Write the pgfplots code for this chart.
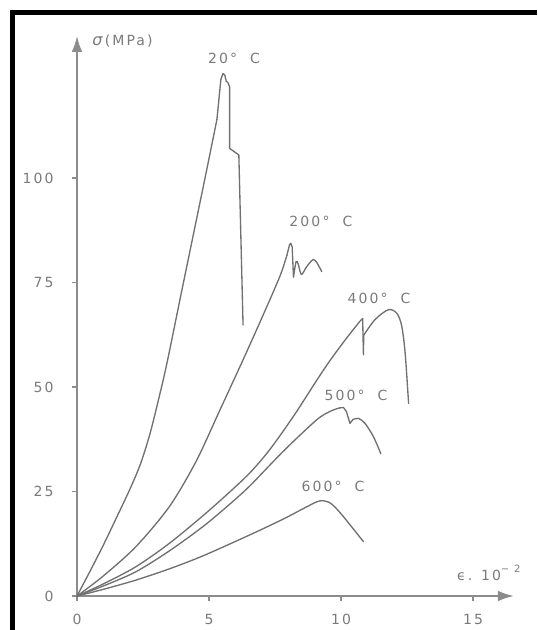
\documentclass[border=0pt]{standalone}
\usepackage{fontspec}
\setmainfont{DejaVu Sans}
\newfontfamily\lblfont[LetterSpace=15]{DejaVu Sans}
\usepackage{pgfplots}
\pgfplotsset{compat=1.18}
\usetikzlibrary{arrows.meta}
\definecolor{crv}{HTML}{707070}
\definecolor{axc}{HTML}{8C8C8C}
\definecolor{txc}{HTML}{7A7A7A}
\begin{document}
\begin{tikzpicture}
\path[use as bounding box] (-57.75pt,-25.5pt) rectangle (345pt,447pt);
\fill[black] (-50.25pt,-25.5pt) rectangle (-46.5pt,439.5pt);
\fill[black] (-50.25pt,435.5pt) rectangle (345pt,439.5pt);
\begin{axis}[
  anchor=origin, at={(0,0)},
  x=19.8pt, y=3.135pt,
  xmin=0, xmax=16.55, ymin=0, ymax=134,
  axis lines=left,
  axis line style={draw=axc, line width=1.5pt, -{Latex[length=12pt,width=8pt]}},
  xtick={0,5,10,15}, ytick={0,25,50,75,100},
  tick align=outside, major tick length=4pt,
  tick style={draw=axc, line width=1pt},
  ticklabel style={font=\lblfont\fontsize{10.5}{12}\selectfont, text=txc},
  /pgf/number format/assume math mode=true,
  xticklabel style={yshift=-6pt},
  yticklabel style={xshift=-10pt},
  clip=false,
  every axis plot/.append style={crv, line width=1pt, line join=round, line cap=round, mark=none},
]
% 20 C
\addplot[smooth] coordinates {(0,0)(0.5,6)(1.0,12.2)(1.5,18.8)(2.0,25.5)(2.4,31.5)(2.75,38.5)(3.05,46)(3.4,55.5)(4.0,74)(4.85,100)(5.3,114)};
\addplot[sharp plot] coordinates {(5.3,114)(5.45,123.6)(5.53,125)(5.6,124.6)(5.65,123.2)(5.72,122.8)(5.78,121.8)(5.78,107.1)(6.13,105.5)(6.29,64.8)};
% 200 C
\addplot[smooth] coordinates {(0,0)(0.96,4.6)(2.23,11.8)(3.50,21.4)(4.51,32.2)(5.40,44.3)(6.29,56.5)(7.0,66.5)(7.68,76.4)(7.95,81.5)};
\addplot[sharp plot] coordinates {(7.95,81.5)(8.05,84)(8.1,84.4)(8.15,83.5)(8.2,76.3)};
\addplot[smooth] coordinates {(8.2,76.3)(8.3,80)(8.38,79.4)(8.5,76.9)(8.7,78.8)(8.95,80.5)(9.1,79.6)(9.27,77.6)};
% 400 C
\addplot[smooth] coordinates {(0,0)(1,2.9)(2.23,7.0)(3.5,12.6)(4.77,19.2)(5.7,24.4)(6.54,29.4)(7.30,35)(8.2,43)(9.07,51.5)(9.58,56.3)(10.2,61.6)(10.7,65.6)};
\addplot[sharp plot] coordinates {(10.7,65.6)(10.82,66.4)(10.85,57.7)(10.86,62.4)};
\addplot[smooth] coordinates {(10.86,62.4)(11.3,66.2)(11.8,68.5)(12.12,67.6)(12.3,64.6)(12.43,58.1)(12.56,46.1)};
% 500 C
\addplot[smooth] coordinates {(0,0)(1,2.4)(2.23,5.8)(3.5,10.8)(4.77,16.6)(5.7,21.5)(6.54,26.3)(7.81,34.6)(9.07,42.1)(9.6,44.2)(9.95,45)};
\addplot[sharp plot] coordinates {(9.95,45)(10.09,45.1)(10.2,44.2)(10.34,41.3)(10.45,42.2)};
\addplot[smooth] coordinates {(10.45,42.2)(10.66,42.5)(10.91,41.3)(11.23,38.1)(11.51,34.0)};
% 600 C
\addplot[smooth] coordinates {(0,0)(1,1.6)(2.23,3.8)(3.5,6.5)(4.77,9.6)(6.54,14.6)(7.81,18.4)(8.6,21)(9.07,22.5)(9.3,22.8)(9.55,22.4)(9.75,21.4)(10.09,19)(10.85,13)};
% labels
\begin{scope}[every node/.style={font=\lblfont\fontsize{10.5}{12}\selectfont, text=txc, inner sep=0pt}]
\node at (axis cs:5.95,128.7) {20°\ \ C};
\node at (axis cs:9.24,89.5) {200°\ \ C};
\node at (axis cs:11.44,71.1) {400°\ \ C};
\node at (axis cs:10.57,48.1) {500°\ \ C};
\node at (axis cs:9.70,26.1) {600°\ \ C};
\node[anchor=west] at (axis cs:0.57,132.8) {{\fontsize{12}{12}\selectfont\itshape σ}\,(MPa)};
\node[anchor=west] at (axis cs:14.39,5.5) {ϵ. 10\raisebox{1.0ex}{\fontsize{7.5}{8}\selectfont − 2}};
\end{scope}
\end{axis}
\end{tikzpicture}
\end{document}
